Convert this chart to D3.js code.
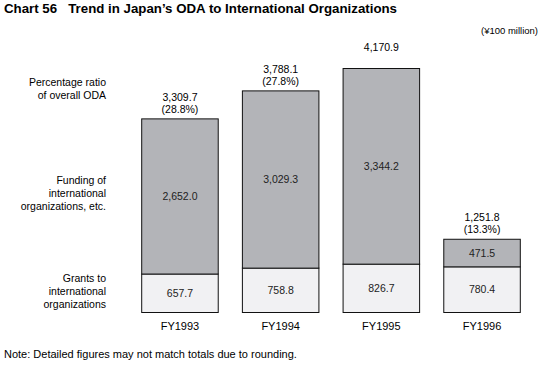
<!DOCTYPE html>
<html>
<head>
<meta charset="utf-8">
<script src="https://cdn.jsdelivr.net/npm/d3@7"></script>
<style>
  body { margin: 0; background: #fff; }
  svg { font-family: "Liberation Sans", Arial, sans-serif; }
</style>
</head>
<body>
<div id="graph01"></div>
<script>
// data
const years = ["FY1993", "FY1994", "FY1995", "FY1996"];
const grants = [657.7, 758.8, 826.7, 780.4];
const funding = [2652.0, 3029.3, 3344.2, 471.5];
const totals = [3309.7, 3788.1, 4170.9, 1251.8];
const ratios = ["(28.8%)", "(27.8%)", "", "(13.3%)"];
const rowLabels = [
    { lines: ["Percentage ratio", "of overall ODA"], y: 86 },
    { lines: ["Funding of", "international", "organizations, etc."], y: 184 },
    { lines: ["Grants to", "international", "organizations"], y: 282 }
];

const width = 541, height = 367;
const svg = d3.select("#graph01").append("svg")
    .attr("width", width)
    .attr("height", height);

const fmt = d3.format(",.1f");

// scales
const x = d3.scaleBand()
    .domain(years)
    .range([141.7, 520.3])
    .paddingInner(0.24)
    .paddingOuter(0);

const y = d3.scaleLinear()
    .domain([0, 4170.9])
    .range([312.5, 68.5]);

// title & notes
svg.append("text")
    .attr("x", 4).attr("y", 13)
    .attr("font-size", 13).attr("font-weight", "bold")
    .attr("textLength", 393).attr("lengthAdjust", "spacingAndGlyphs")
    .text("Chart 56\u00a0\u00a0 Trend in Japan\u2019s ODA to International Organizations");

svg.append("text")
    .attr("x", 538).attr("y", 34)
    .attr("text-anchor", "end").attr("font-size", 9.5)
    .text("(\u00a5100 million)");

svg.append("text")
    .attr("x", 4).attr("y", 358)
    .attr("font-size", 11)
    .text("Note: Detailed figures may not match totals due to rounding.");

// row labels on the left
rowLabels.forEach(r => {
    svg.append("text")
        .attr("text-anchor", "end")
        .attr("font-size", 10.5)
        .selectAll("tspan")
        .data(r.lines)
        .join("tspan")
        .attr("x", 106)
        .attr("y", (d, i) => r.y + i * 13)
        .text(d => d);
});

// stacked bars
const g = svg.append("g");
const bars = g.selectAll("g.bar")
    .data(years.map((yr, i) => ({ yr, i })))
    .join("g")
    .attr("class", "bar");

bars.append("rect")
    .attr("x", d => x(d.yr))
    .attr("width", x.bandwidth())
    .attr("y", d => y(grants[d.i]))
    .attr("height", d => y(0) - y(grants[d.i]))
    .attr("fill", "#f1f1f3")
    .attr("stroke", "#111")
    .attr("stroke-width", 1);

bars.append("rect")
    .attr("x", d => x(d.yr))
    .attr("width", x.bandwidth())
    .attr("y", d => y(grants[d.i] + funding[d.i]))
    .attr("height", d => y(grants[d.i]) - y(grants[d.i] + funding[d.i]))
    .attr("fill", "#b3b4b8")
    .attr("stroke", "#111")
    .attr("stroke-width", 1);

const cx = d => x(d.yr) + x.bandwidth() / 2;

// values inside segments
bars.append("text")
    .attr("x", cx)
    .attr("y", d => (y(0) + y(grants[d.i])) / 2 + 3.5)
    .attr("text-anchor", "middle").attr("font-size", 10.5).attr("fill", "#222")
    .text(d => fmt(grants[d.i]));

bars.append("text")
    .attr("x", cx)
    .attr("y", d => (y(grants[d.i]) + y(grants[d.i] + funding[d.i])) / 2 + 3.5)
    .attr("text-anchor", "middle").attr("font-size", 10.5).attr("fill", "#222")
    .text(d => fmt(funding[d.i]));

// totals above bars
bars.append("text")
    .attr("x", cx)
    .attr("y", d => y(totals[d.i]) - 18)
    .attr("text-anchor", "middle").attr("font-size", 10.5)
    .text(d => fmt(totals[d.i]));

bars.append("text")
    .attr("x", cx)
    .attr("y", d => y(totals[d.i]) - 6)
    .attr("text-anchor", "middle").attr("font-size", 10.5)
    .text(d => ratios[d.i]);

// x axis labels
const axis = d3.axisBottom(x).tickSize(0).tickPadding(10);
svg.append("g")
    .attr("transform", `translate(0,${y(0)})`)
    .call(axis)
    .call(a => a.select(".domain").remove())
    .call(a => a.selectAll("text")
        .attr("font-size", 11)
        .attr("font-family", "Liberation Sans, Arial, sans-serif")
        .attr("fill", "#000"));
</script>
</body>
</html>
